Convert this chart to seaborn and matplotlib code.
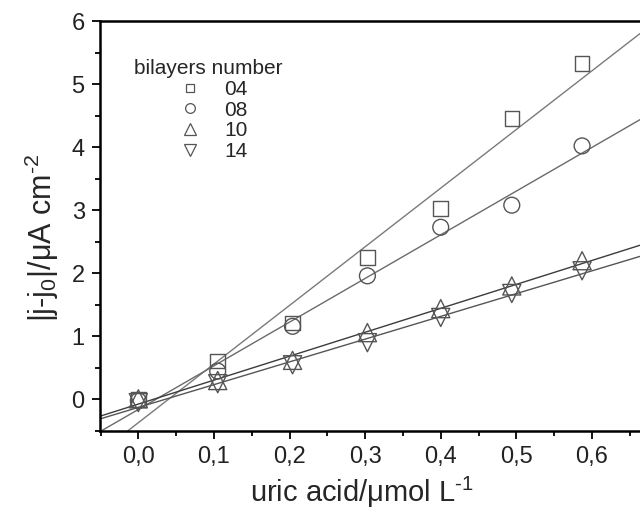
import matplotlib
matplotlib.use("Agg")
import matplotlib.pyplot as plt
import matplotlib.ticker as mticker
from matplotlib.lines import Line2D
import seaborn as sns
import pandas as pd
import numpy as np

# ---- data ----
uric_acid = [0.0, 0.105, 0.204, 0.303, 0.400, 0.494, 0.587]
bl04 = [0.00, 0.61, 1.21, 2.25, 3.03, 4.45, 5.33]
bl08 = [-0.02, 0.45, 1.16, 1.96, 2.73, 3.08, 4.02]
bl10 = [0.01, 0.30, 0.62, 1.06, 1.44, 1.80, 2.20]
bl14 = [-0.05, 0.25, 0.55, 0.90, 1.30, 1.68, 2.04]
series_labels = ["04", "08", "10", "14"]
x_ticks = [0.0, 0.1, 0.2, 0.3, 0.4, 0.5, 0.6]
y_ticks = [0, 1, 2, 3, 4, 5, 6]

sns.set_theme(style="ticks")
plt.rcParams["font.family"] = ["Liberation Sans", "DejaVu Sans"]
plt.rcParams["mathtext.fontset"] = "custom"
plt.rcParams["mathtext.rm"] = "Liberation Sans"
plt.rcParams["mathtext.it"] = "Liberation Sans"
plt.rcParams["mathtext.default"] = "regular"
plt.rcParams["axes.unicode_minus"] = False

fig = plt.figure(figsize=(6.40, 5.11), dpi=100)
ax = fig.add_axes([100/640, 1-431/511, 540/640, 410/511])

xlim = (-0.0507, 0.6636)
ylim = (-0.5, 6.0)
ax.set_xlim(*xlim)
ax.set_ylim(*ylim)

all_series = [bl04, bl08, bl10, bl14]
markers = ["s", "o", "^", "v"]
msizes = [110, 130, 170, 170]
line_colors = ["#7a7a7a", "#6a6a6a", "#3c3c3c", "#555555"]
edge = "#555555"

for ys, lab, m, ms, lc in zip(all_series, series_labels, markers, msizes, line_colors):
    df = pd.DataFrame({"x": uric_acid, "y": ys})
    sns.regplot(data=df, x="x", y="y", ax=ax, scatter=False, ci=None,
                truncate=False, line_kws=dict(color=lc, lw=1.0))
    sns.scatterplot(data=df, x="x", y="y", ax=ax, marker=m, s=ms,
                    facecolor="none", edgecolor=edge, linewidth=1.0, zorder=3)

ax.set_xlim(*xlim)
ax.set_ylim(*ylim)

ax.set_xticks(x_ticks)
ax.set_xticklabels([f"{v:.1f}".replace(".", ",") for v in x_ticks])
ax.set_yticks(y_ticks)
ax.xaxis.set_minor_locator(mticker.MultipleLocator(0.05))
ax.yaxis.set_minor_locator(mticker.MultipleLocator(0.5))
ax.tick_params(which="major", direction="out", length=6, width=1.3,
               labelsize=17, color="black", labelcolor="#222222", pad=5)
ax.tick_params(which="minor", direction="out", length=3.5, width=1.3, color="black")

for s in ["left", "bottom", "top"]:
    ax.spines[s].set_linewidth(1.8)
    ax.spines[s].set_color("black")
ax.spines["right"].set_visible(False)

ax.set_xlabel("uric acid/\u03bcmol L$^{\\text{-1}}$", fontsize=21)
ax.set_ylabel("|j-j$_{\\text{0}}$|/\u03bcA cm$^{\\text{-2}}$", fontsize=22)
ax.xaxis.set_label_coords(0.485, -0.108)
ax.yaxis.set_label_coords(-0.072, 0.47)

handles = [Line2D([], [], ls="none", marker=m, markersize=sz, markerfacecolor="none",
                  markeredgecolor=edge, markeredgewidth=0.9)
           for m, sz in zip(markers, [6, 7, 9, 9])]
leg = ax.legend(handles, series_labels, title="bilayers number", frameon=False,
                loc="upper left", bbox_to_anchor=(0.048, 0.927), fontsize=15,
                title_fontsize=15, handletextpad=0.65, labelspacing=0.08,
                borderaxespad=0, handlelength=2.0)

fig.savefig("out.png", dpi=100)
